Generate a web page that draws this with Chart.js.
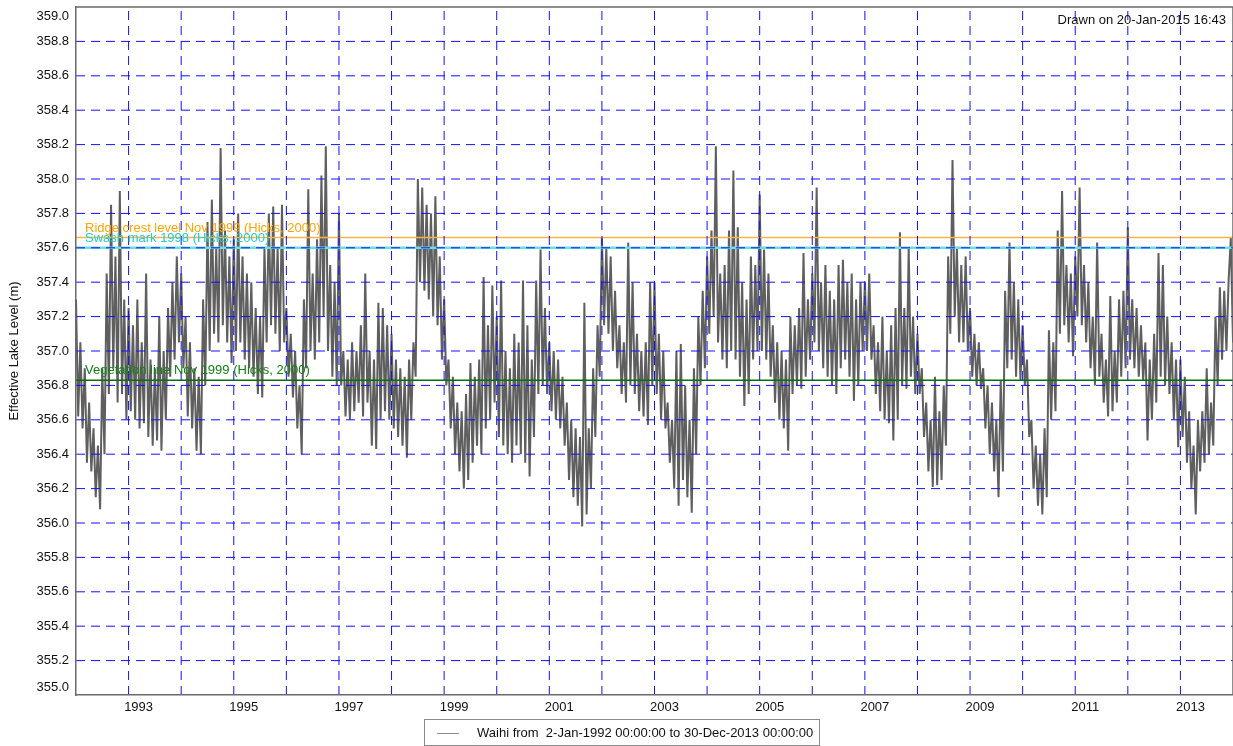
<!DOCTYPE html>
<html>
<head>
<meta charset="utf-8">
<title>Waihi effective lake level</title>
<script src="https://cdn.jsdelivr.net/npm/chart.js@4"></script>
<style>
	body { margin: 0; background: #fff; overflow: hidden; }
	canvas { display: block; }
</style>
</head>
<body>
<canvas id="level_chart" width="1233" height="746"></canvas>
<script>
// half-monthly high/low readings of the effective lake level (m), one array per year
const level1992 = [357.30,356.62,357.05,356.55,356.90,356.35,356.70,356.30,356.55,356.15,356.45,356.08,356.90,356.40,357.45,356.75,357.85,356.90,357.55,356.70,357.93,356.75,357.30,356.60]
const level1993 = [357.25,356.65,357.15,356.60,357.30,356.55,357.05,356.58,357.45,356.50,356.95,356.45,356.90,356.48,357.20,356.42,357.00,356.60,357.25,356.85,357.40,356.95,357.55,357.05]
const level1994 = [357.45,356.90,357.20,356.62,357.05,356.55,356.90,356.42,356.85,356.40,357.30,356.80,357.75,357.00,357.88,357.10,357.60,357.05,358.18,357.15,357.70,357.05,357.55,356.93]
const level1995 = [357.65,357.00,357.80,357.05,357.55,356.95,357.45,356.90,357.40,356.85,357.25,356.75,357.20,356.73,357.60,357.05,357.80,357.15,357.84,357.10,357.60,357.00,357.85,357.05]
const level1996 = [357.25,356.85,357.10,356.73,357.00,356.55,356.80,356.40,357.30,356.90,357.94,357.00,357.45,356.95,357.65,357.05,358.02,357.20,358.19,357.00,357.50,356.85,357.40,356.80]
const level1997 = [357.80,356.80,357.00,356.62,356.95,356.60,357.05,356.65,357.00,356.70,357.15,356.62,357.45,356.70,357.00,356.45,356.95,356.43,357.28,356.60,357.25,356.65,357.15,356.60]
const level1998 = [357.10,356.55,356.95,356.50,356.90,356.45,356.85,356.38,356.95,356.60,357.05,356.85,358.00,357.40,357.95,357.35,357.85,357.30,357.80,357.20,357.90,357.15,357.55,356.95]
const level1999 = [357.30,356.80,356.95,356.55,356.85,356.40,356.70,356.30,356.65,356.20,356.75,356.25,356.93,356.35,356.85,356.45,356.95,356.40,357.43,356.55,357.15,356.60,357.38,356.70]
const level2000 = [357.20,356.50,357.41,356.45,357.00,356.40,356.90,356.35,357.10,356.45,357.05,356.40,357.41,356.35,357.15,356.27,356.95,356.50,357.41,356.75,357.59,356.80,357.25,356.75]
const level2001 = [357.05,356.65,357.00,356.60,356.95,356.55,356.85,356.45,356.70,356.25,356.60,356.15,356.55,356.10,356.50,355.98,357.28,356.05,356.55,356.20,356.90,356.50,357.15,356.85]
const level2002 = [357.66,357.15,357.60,357.10,357.55,357.00,357.35,356.90,357.15,356.75,357.05,356.70,357.63,356.80,357.40,356.75,357.10,356.65,357.00,356.62,357.05,356.57,357.40,356.80]
const level2003 = [357.40,356.75,357.10,356.60,357.00,356.55,356.70,356.35,356.60,356.20,357.00,356.10,357.04,356.25,356.80,356.15,356.60,356.06,356.90,356.40,357.20,356.80,357.35,356.90]
const level2004 = [357.55,357.10,357.70,357.20,358.19,357.05,357.45,356.95,357.50,356.90,357.70,357.00,358.05,356.95,357.72,356.85,357.40,356.68,357.30,356.75,357.55,356.95,357.50,357.00]
const level2005 = [357.91,357.00,357.59,356.95,357.45,356.85,357.15,356.70,357.05,356.60,357.00,356.55,356.95,356.42,357.20,356.75,357.15,356.80,357.25,356.78,357.57,356.85,357.30,356.95]
const level2006 = [357.45,357.05,357.95,357.00,357.40,356.90,357.50,356.85,357.35,356.80,357.30,356.75,357.50,356.90,357.53,356.95,357.40,356.85,357.45,356.71,357.30,356.80,357.40,357.00]
const level2007 = [357.40,357.00,357.45,356.95,357.15,356.75,357.05,356.65,357.20,356.60,357.00,356.58,357.15,356.48,357.25,356.60,357.69,356.80,357.25,356.78,357.60,356.85,357.20,356.75]
const level2008 = [357.10,356.75,356.90,356.50,356.70,356.30,356.60,356.21,356.85,356.22,356.65,356.25,356.80,356.45,357.55,357.10,358.11,357.20,357.60,357.05,357.50,357.05,357.55,357.00]
const level2009 = [357.25,356.85,357.10,356.80,357.05,356.78,356.90,356.55,356.80,356.40,356.70,356.30,356.60,356.15,356.83,356.30,357.35,356.90,357.63,356.95,357.40,356.85,357.30,356.83]
const level2010 = [357.15,356.80,356.95,356.50,356.60,356.20,356.45,356.10,356.40,356.05,356.55,356.15,357.12,356.60,357.05,356.65,357.70,357.10,357.93,357.15,357.50,357.05,357.45,356.97]
const level2011 = [357.55,357.20,357.95,357.15,357.50,357.05,357.40,356.90,357.20,356.80,357.63,356.85,357.10,356.70,356.95,356.62,357.32,356.65,357.00,356.70,357.30,356.85,357.35,356.90]
const level2012 = [357.72,356.95,357.30,356.90,357.25,356.85,357.15,356.83,357.05,356.48,356.95,356.60,357.10,356.70,357.57,356.85,357.50,356.80,357.20,356.75,357.05,356.60,356.95,356.44]
const level2013 = [356.95,356.50,356.85,356.35,356.65,356.20,356.45,356.05,356.60,356.30,356.65,356.35,356.90,356.40,356.70,356.45,357.20,356.80,357.37,356.95,357.35,357.00,357.41,357.66,357.05]

const firstYear = 1992
const lastYear = 2014
const readingsPerYear = 24

const levelNames = ['Ridge crest level Nov 1999 (Hicks, 2000)', 'Swash mark 1998 (Hicks, 2000)', 'Vegetation line Nov 1999 (Hicks, 2000)']
const levelValues = [357.66, 357.60, 356.83]
const levelColors = ['#f7b34a', '#66e0e0', '#0a6e0a']
const levelTextColors = ['#ffa500', '#1fcfcf', '#128212']

const seriesLabel = 'Waihi from  2-Jan-1992 00:00:00 to 30-Dec-2013 00:00:00'
const drawnOn = 'Drawn on 20-Jan-2015 16:43'
const yAxisTitle = 'Effective Lake Level (m)'

const FONT = '"Liberation Sans", Arial, sans-serif'
const GREY = '#5f5f5f'
const GRID_BLUE = '#1010ff'

const levels = [].concat(level1992, level1993, level1994, level1995, level1996, level1997, level1998, level1999,
	level2000, level2001, level2002, level2003, level2004, level2005, level2006, level2007, level2008, level2009,
	level2010, level2011, level2012, level2013)
const levelPoints = levels.map((v, i) => ({x: firstYear + i / readingsPerYear, y: v}))

const isEnd = (v, a, b) => Math.abs(v - a) < 1e-6 || Math.abs(v - b) < 1e-6

const refDatasets = levelValues.map((v, i) => ({
	label: levelNames[i],
	data: [{x: firstYear, y: v}, {x: lastYear, y: v}],
	borderColor: levelColors[i],
	borderWidth: i == 1 ? 2.5 : 1.5,
	pointRadius: 0,
	order: 0
}))

// dashed grid on top of the data, at the scales' own tick positions
const gridPlugin = {
	id: 'dashedGrid',
	afterDatasetsDraw(chart) {
		const {ctx, chartArea: a, scales: {x, y}} = chart
		ctx.save()
		ctx.strokeStyle = GRID_BLUE
		ctx.lineWidth = 1
		ctx.setLineDash([9, 6])
		x.ticks.forEach(t => {
			if (isEnd(t.value, firstYear, lastYear)) return
			const px = x.getPixelForValue(t.value)
			ctx.beginPath()
			ctx.moveTo(px, a.bottom)
			ctx.lineTo(px, a.top)
			ctx.stroke()
		})
		y.ticks.forEach(t => {
			if (isEnd(t.value, 355, 359)) return
			const py = y.getPixelForValue(t.value)
			ctx.beginPath()
			ctx.moveTo(a.left, py)
			ctx.lineTo(a.right, py)
			ctx.stroke()
		})
		ctx.restore()
	}
}

const extrasPlugin = {
	id: 'extras',
	afterDraw(chart) {
		const {ctx, chartArea: a, scales: {x, y}} = chart
		ctx.save()
		// frame on top and right
		ctx.strokeStyle = '#6a6a6a'
		ctx.lineWidth = 1.5
		ctx.beginPath()
		ctx.moveTo(a.left, a.top)
		ctx.lineTo(a.right, a.top)
		ctx.lineTo(a.right, a.bottom)
		ctx.stroke()

		ctx.font = '13px ' + FONT
		ctx.textBaseline = 'middle'
		ctx.textAlign = 'left'
		levelValues.forEach((v, i) => {
			ctx.fillStyle = levelTextColors[i]
			ctx.fillText(levelNames[i], a.left + 9, y.getPixelForValue(v) - 9.5)
		})

		ctx.fillStyle = '#111'
		ctx.textAlign = 'right'
		ctx.fillText(drawnOn, a.right - 7, a.top + 13)

		// end labels of the y axis sit inside the axis range
		ctx.fillText('359.0', a.left - 7, y.getPixelForValue(359) + 9)
		ctx.fillText('355.0', a.left - 7, y.getPixelForValue(355) - 8)

		// legend box
		ctx.fillStyle = '#fff'
		ctx.fillRect(424, 719, 395, 26)
		ctx.strokeStyle = '#8a8a8a'
		ctx.lineWidth = 1
		ctx.strokeRect(424.5, 719.5, 395, 26)
		ctx.strokeStyle = '#8c8c8c'
		ctx.beginPath()
		ctx.moveTo(437, 733.5)
		ctx.lineTo(459, 733.5)
		ctx.stroke()
		ctx.fillStyle = '#111'
		ctx.textAlign = 'left'
		ctx.fillText(seriesLabel, 477, 733)
		ctx.restore()
	}
}

const levelChart = new Chart(document.getElementById('level_chart').getContext('2d'), {
	type: 'line',
	data: {
		datasets: refDatasets.concat([{
			label: seriesLabel,
			data: levelPoints,
			borderColor: GREY,
			borderWidth: 2,
			pointRadius: 0,
			tension: 0,
			order: 1
		}])
	},
	options: {
		responsive: false,
		devicePixelRatio: 1,
		animation: false,
		layout: {padding: {top: 7, right: 0, left: 0, bottom: 0}},
		plugins: {legend: {display: false}, tooltip: {enabled: false}},
		scales: {
			x: {
				type: 'linear',
				min: firstYear,
				max: lastYear,
				afterFit: (scale) => {
					scale.height = 51
					scale.paddingLeft = 0
					scale.paddingRight = 0
				},
				ticks: {
					stepSize: 1,
					autoSkip: false,
					maxRotation: 0,
					labelOffset: 10,
					padding: 5,
					color: '#111',
					font: {family: FONT, size: 13},
					callback: (v) => (v % 2 == 1) ? String(v) : ''
				},
				grid: {display: false, drawTicks: false},
				border: {display: true, color: '#6a6a6a', width: 1.5, z: 2}
			},
			y: {
				min: 355,
				max: 359,
				afterFit: (scale) => {
					scale.width = 76
					scale.paddingTop = 0
					scale.paddingBottom = 0
				},
				ticks: {
					stepSize: 0.2,
					autoSkip: false,
					padding: 7,
					color: '#111',
					font: {family: FONT, size: 13},
					callback: (v) => isEnd(v, 355, 359) ? '' : v.toFixed(1)
				},
				grid: {display: false, drawTicks: false},
				border: {display: true, color: '#6a6a6a', width: 1.5, z: 2},
				title: {display: true, text: yAxisTitle, color: '#111', font: {family: FONT, size: 13}, padding: {top: 7, bottom: 0}}
			}
		}
	},
	plugins: [gridPlugin, extrasPlugin]
})
</script>
</body>
</html>
